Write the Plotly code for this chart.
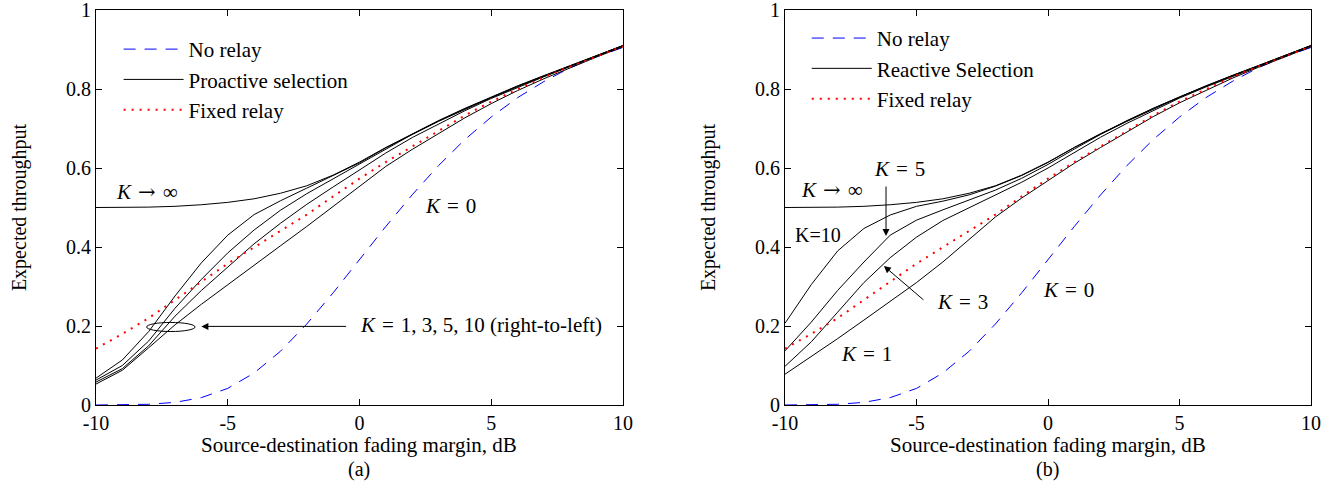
import plotly.graph_objects as go

# ---------------- data ----------------
x_db = list(range(-10, 11))

no_relay = [0.0000, 0.0004, 0.0018, 0.0067, 0.0187, 0.042, 0.081, 0.136, 0.205, 0.284, 0.368,
            0.452, 0.532, 0.606, 0.672, 0.729, 0.778, 0.819, 0.854, 0.882, 0.905]
fixed_relay = [0.143, 0.180, 0.220, 0.265, 0.312, 0.358, 0.400, 0.440, 0.482, 0.528, 0.573,
               0.615, 0.655, 0.695, 0.733, 0.768, 0.800, 0.830, 0.857, 0.883, 0.908]
k_inf = [0.500, 0.500, 0.501, 0.503, 0.507, 0.513, 0.522, 0.536, 0.555, 0.582, 0.615,
         0.652, 0.687, 0.720, 0.751, 0.780, 0.808, 0.834, 0.859, 0.885, 0.910]

# (a) proactive selection
pro_k10 = [0.068, 0.114, 0.186, 0.276, 0.360, 0.430, 0.482, 0.517, 0.549, 0.580, 0.613,
           0.651, 0.686, 0.719, 0.750, 0.779, 0.807, 0.833, 0.858, 0.884, 0.910]
pro_k5 = [0.063, 0.100, 0.162, 0.245, 0.318, 0.385, 0.443, 0.493, 0.535, 0.573, 0.610,
          0.649, 0.685, 0.718, 0.749, 0.778, 0.806, 0.832, 0.858, 0.884, 0.910]
pro_k3 = [0.058, 0.092, 0.150, 0.225, 0.290, 0.350, 0.408, 0.460, 0.508, 0.552, 0.595,
          0.638, 0.677, 0.712, 0.745, 0.776, 0.804, 0.831, 0.857, 0.883, 0.909]
pro_k1 = [0.053, 0.088, 0.145, 0.203, 0.255, 0.305, 0.355, 0.403, 0.452, 0.503, 0.555,
          0.604, 0.647, 0.688, 0.727, 0.763, 0.796, 0.826, 0.854, 0.881, 0.907]

# (b) reactive selection
rea_k10 = [0.207, 0.305, 0.390, 0.447, 0.481, 0.503, 0.516, 0.532, 0.554, 0.581, 0.614,
           0.652, 0.687, 0.720, 0.751, 0.780, 0.808, 0.834, 0.859, 0.885, 0.910]
rea_k5 = [0.137, 0.210, 0.290, 0.362, 0.430, 0.468, 0.494, 0.518, 0.544, 0.574, 0.609,
          0.648, 0.685, 0.718, 0.749, 0.779, 0.807, 0.833, 0.858, 0.884, 0.910]
rea_k3 = [0.098, 0.160, 0.235, 0.310, 0.373, 0.425, 0.467, 0.500, 0.531, 0.564, 0.600,
          0.640, 0.678, 0.713, 0.746, 0.777, 0.805, 0.832, 0.857, 0.883, 0.909]
rea_k1 = [0.078, 0.122, 0.168, 0.215, 0.262, 0.310, 0.362, 0.420, 0.476, 0.524, 0.569,
          0.612, 0.652, 0.692, 0.730, 0.765, 0.797, 0.827, 0.855, 0.881, 0.907]

x_ticks = [-10, -5, 0, 5, 10]
x_ticktext = ["-10", "-5", "0", "5", "10"]
y_ticks = [0, 0.2, 0.4, 0.6, 0.8, 1]
y_ticktext = ["0", "0.2", "0.4", "0.6", "0.8", "1"]

FONT = "Liberation Serif"
BLUE = "#0000ff"
RED = "#ff0000"
FS = 20

fig = go.Figure()

def add_panel(xa, ya, legend, sel_name, sel_curves):
    fig.add_trace(go.Scatter(x=x_db, y=no_relay, mode="lines", name="No relay",
                             line=dict(color=BLUE, width=1, dash="12px,9px"),
                             xaxis=xa, yaxis=ya, legend=legend, legendgroup=legend + "a"))
    for i, c in enumerate(sel_curves):
        fig.add_trace(go.Scatter(x=x_db, y=c, mode="lines", name=sel_name,
                                 line=dict(color="black", width=1),
                                 showlegend=(i == 0),
                                 xaxis=xa, yaxis=ya, legend=legend, legendgroup=legend + "b"))
    fig.add_trace(go.Scatter(x=x_db, y=fixed_relay, mode="lines", name="Fixed relay",
                             line=dict(color=RED, width=2, dash="2px,6px"),
                             xaxis=xa, yaxis=ya, legend=legend, legendgroup=legend + "c"))

add_panel("x", "y", "legend", "Proactive selection", [k_inf, pro_k10, pro_k5, pro_k3, pro_k1])
add_panel("x2", "y2", "legend2", "Reactive Selection", [k_inf, rea_k10, rea_k5, rea_k3, rea_k1])

axis_common = dict(range=[-10, 10], tickvals=x_ticks, ticktext=x_ticktext, ticks="inside",
                   ticklen=6, tickcolor="black", showline=True, linecolor="black", linewidth=1,
                   mirror="ticks", showgrid=False, zeroline=False, automargin=False,
                   ticklabeloverflow="allow",
                   tickfont=dict(family=FONT, size=FS, color="black"))
yaxis_common = dict(range=[0, 1], tickvals=y_ticks, ticktext=y_ticktext, ticks="inside",
                    ticklen=6, tickcolor="black", showline=True, linecolor="black", linewidth=1,
                    mirror="ticks", showgrid=False, zeroline=False, automargin=False,
                    ticklabeloverflow="allow",
                    tickfont=dict(family=FONT, size=FS, color="black"))

ytitle = dict(text="Expected throughput", font=dict(family=FONT, size=FS, color="black"), standoff=34)

legend_style = dict(font=dict(family=FONT, size=21, color="black"), bgcolor="rgba(0,0,0,0)",
                    borderwidth=0, tracegroupgap=0, traceorder="grouped", itemwidth=60,
                    xanchor="left", yanchor="top")

fig.update_layout(
    width=1332, height=503,
    margin=dict(l=96, r=21, t=10, b=98),
    paper_bgcolor="white", plot_bgcolor="white",
    xaxis=dict(domain=[0, 0.4337], anchor="y", **axis_common),
    yaxis=dict(domain=[0, 1], anchor="x", title=ytitle, **yaxis_common),
    xaxis2=dict(domain=[0.5671, 1], anchor="y2", **axis_common),
    yaxis2=dict(domain=[0, 1], anchor="x2", title=ytitle, **yaxis_common),
    legend=dict(x=0.0186, y=0.952, **legend_style),
    legend2=dict(x=0.585, y=0.98, **legend_style),
    showlegend=True,
)

MATH = dict(family=FONT, size=FS + 1, color="black")
SP = "\u2004"
ARROW = "<span style='font-family:DejaVu Serif'>→</span>"
XTITLE = "Source-destination fading margin, dB"

def kt(rest):
    return "<i>K</i>" + SP + "=" + SP + rest

anns = [
    # panel (a)
    dict(x=-8.05, y=0.54, xref="x", yref="y", text="<i>K</i>" + SP + ARROW + SP + "∞",
         showarrow=False, font=MATH),
    dict(x=3.47, y=0.505, xref="x", yref="y", text=kt("0"), showarrow=False, font=MATH),
    dict(x=-0.05, y=0.203, xref="x", yref="y", xanchor="left",
         text=kt("1, 3, 5, 10 (right-to-left)"), showarrow=False, font=MATH),
    dict(x=-6.0, y=0.199, ax=-0.45, ay=0.199, xref="x", yref="y", axref="x", ayref="y",
         text="", showarrow=True, arrowhead=2, arrowsize=1.4, arrowwidth=1, arrowcolor="black"),
    # panel (b)
    dict(x=-8.2, y=0.545, xref="x2", yref="y2", text="<i>K</i>" + SP + ARROW + SP + "∞",
         showarrow=False, font=MATH),
    dict(x=-5.65, y=0.598, xref="x2", yref="y2", text=kt("5"), showarrow=False, font=MATH),
    dict(x=-6.16, y=0.428, ax=-6.16, ay=0.557, xref="x2", yref="y2", axref="x2", ayref="y2",
         text="", showarrow=True, arrowhead=2, arrowsize=1.4, arrowwidth=1, arrowcolor="black"),
    dict(x=-8.76, y=0.43, xref="x2", yref="y2", text="K=10", showarrow=False,
         font=dict(family=FONT, size=FS, color="black")),
    dict(x=-3.27, y=0.26, xref="x2", yref="y2", text=kt("3"), showarrow=False, font=MATH),
    dict(x=-6.24, y=0.352, ax=-4.68, ay=0.263, xref="x2", yref="y2", axref="x2", ayref="y2",
         text="", showarrow=True, arrowhead=2, arrowsize=1.4, arrowwidth=1, arrowcolor="black"),
    dict(x=-6.9, y=0.129, xref="x2", yref="y2", text=kt("1"), showarrow=False, font=MATH),
    dict(x=0.78, y=0.291, xref="x2", yref="y2", text=kt("0"), showarrow=False, font=MATH),
    # axis titles and captions
    dict(x=0.2168, y=-0.1015, xref="paper", yref="paper", text=XTITLE, showarrow=False,
         xanchor="center", yanchor="middle", font=dict(family=FONT, size=21, color="black")),
    dict(x=0.7835, y=-0.1015, xref="paper", yref="paper", text=XTITLE, showarrow=False,
         xanchor="center", yanchor="middle", font=dict(family=FONT, size=21, color="black")),
    dict(x=0.2168, y=-0.163, xref="paper", yref="paper", text="(a)", showarrow=False,
         xanchor="center", yanchor="middle", font=dict(family=FONT, size=FS, color="black")),
    dict(x=0.7835, y=-0.163, xref="paper", yref="paper", text="(b)", showarrow=False,
         xanchor="center", yanchor="middle", font=dict(family=FONT, size=FS, color="black")),
]
fig.update_layout(annotations=anns)

fig.add_shape(type="circle", xref="x", yref="y", x0=-8.08, x1=-6.24, y0=0.186, y1=0.209,
              line=dict(color="black", width=1))

fig.write_html("out.html", config={"displayModeBar": False},
               post_script="document.body.style.margin='0px';")
